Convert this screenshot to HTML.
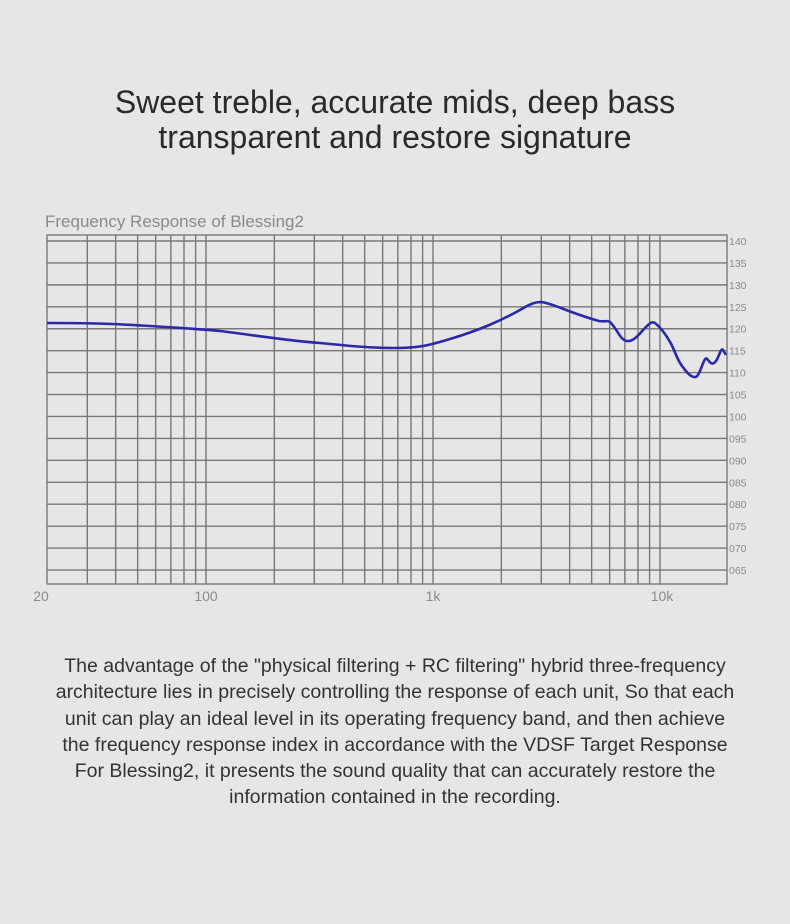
<!DOCTYPE html>
<html><head><meta charset="utf-8"><style>
html,body{margin:0;padding:0;background:#e6e6e6;}
body{width:790px;height:924px;position:relative;overflow:hidden;font-family:"Liberation Sans",sans-serif;}
.t{position:absolute;left:0;width:790px;text-align:center;color:#2a2a2a;font-size:32px;line-height:35px;top:85px;}
.p{position:absolute;left:0;width:790px;text-align:center;color:#333;font-size:19.5px;line-height:26.3px;top:653px;}
</style></head><body>
<div class="t">Sweet treble, accurate mids, deep bass<br>transparent and restore signature</div>
<svg width="790" height="924" style="position:absolute;left:0;top:0">
<text x="45" y="227" font-size="17" fill="#8a8a8a" font-family="Liberation Sans">Frequency Response of Blessing2</text>
<g stroke="#787878" stroke-width="1.4" fill="none" id="g"></g>
<g font-size="10.5" fill="#8a8a8a" font-family="Liberation Sans" id="yl"></g>
<g font-size="14" fill="#8a8a8a" font-family="Liberation Sans" text-anchor="middle">
<text x="41" y="601">20</text><text x="206" y="601">100</text><text x="433" y="601">1k</text><text x="662" y="601">10k</text></g>
<path fill="none" stroke="#2a2aa8" stroke-width="2.6" stroke-linejoin="round" d="M47,323 C80,323 100,323 150,326 C180,328 200,329 220,331 C260,336 290,341 320,343 C350,346 370,348 395,348 C420,348 430,345 450,339 C480,330 500,321 520,310 C530,304 535,302 541,302 C552,303 570,313 599,321 C605,322 608,320 610,322 C618,330 620,340 627,341 C634,342 640,333 645,328 C650,323 652,321 655,323 C660,327 665,333 670,342 C675,350 676,358 682,366 C686,371 689,376 694,377 C697,378 699,374 702,366 C705,358 706,357 708,360 C711,364 713,365 716,361 C719,357 721,347 723,350 L726,355"/>
</svg>
<script>
var g=document.getElementById('g'),h='';
h+='<rect x="47" y="235" width="680" height="349"/>';
for(var v=140;v>=65;v-=5){var y=241+(140-v)*4.387;h+='<line x1="47" x2="727" y1="'+y+'" y2="'+y+'"/>';}
var fs=[];for(var d=10;d<=10000;d*=10)for(var k=1;k<10;k++){var f=d*k;if(f>20&&f<20000)fs.push(f);}
fs.forEach(function(f){var x=206+227*Math.log10(f/100);h+='<line x1="'+x+'" x2="'+x+'" y1="235" y2="584"/>';});
g.innerHTML=h;
var yl='';for(var v=140;v>=65;v-=5){var y=241+(140-v)*4.387+4;var s=v<100?'0'+v:''+v;yl+='<text x="729" y="'+y+'">'+s+'</text>';}
document.getElementById('yl').innerHTML=yl;
</script>
<div class="p">The advantage of the "physical filtering + RC filtering" hybrid three-frequency<br>architecture lies in precisely controlling the response of each unit, So that each<br>unit can play an ideal level in its operating frequency band, and then achieve<br>the frequency response index in accordance with the VDSF Target Response<br>For Blessing2, it presents the sound quality that can accurately restore the<br>information contained in the recording.</div>
</body></html>
